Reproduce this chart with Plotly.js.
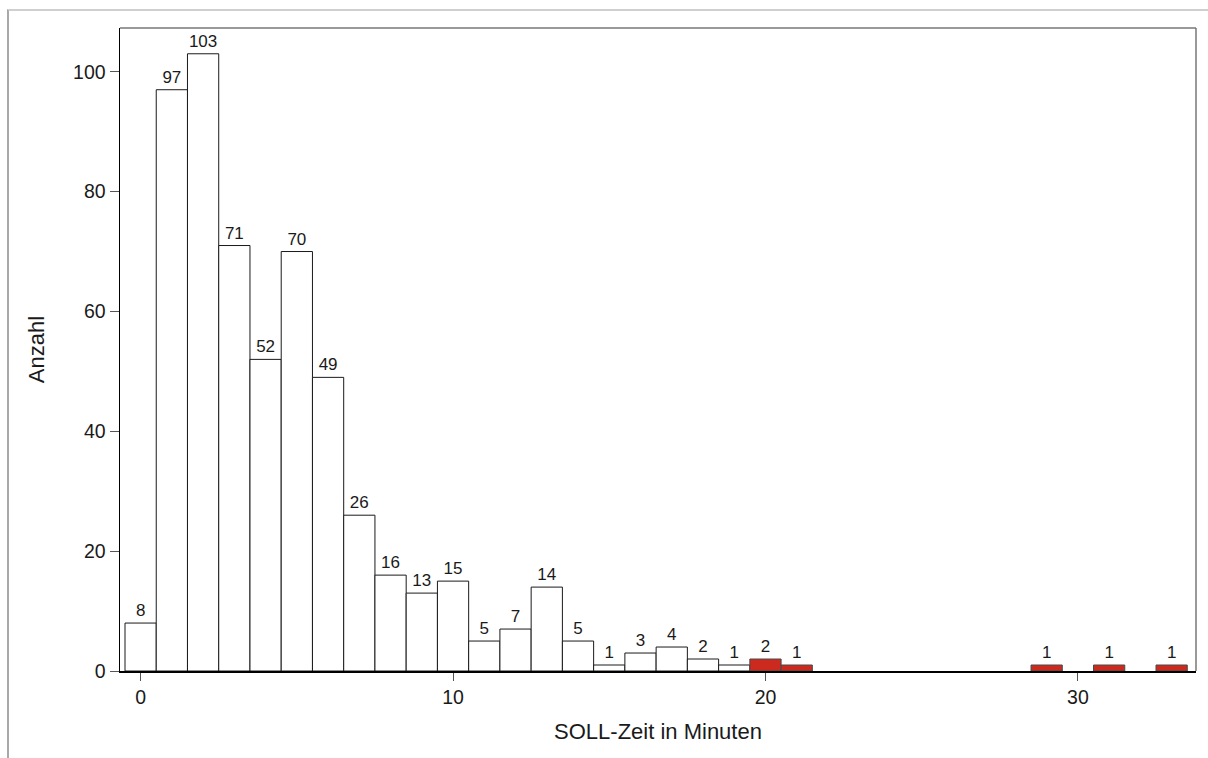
<!DOCTYPE html>
<html>
<head>
<meta charset="utf-8">
<script src="https://cdn.plot.ly/plotly-3.0.1.min.js"></script>
<style>
html,body{margin:0;padding:0;background:#fff;}
#chart{width:1208px;height:758px;}
#frame{position:absolute;left:7px;top:9px;width:1400px;height:900px;border-top:2px solid #cfcfcf;border-left:2px solid #a8a8a8;pointer-events:none;}
</style>
</head>
<body>
<div id="chart"></div>
<div id="frame"></div>
<script>
// Data
const minutes = [0,1,2,3,4,5,6,7,8,9,10,11,12,13,14,15,16,17,18,19,20,21,29,31,33];
const counts  = [8,97,103,71,52,70,49,26,16,13,15,5,7,14,5,1,3,4,2,1,2,1,1,1,1];
const highlighted = [0,0,0,0,0,0,0,0,0,0,0,0,0,0,0,0,0,0,0,0,1,1,1,1,1];
const xTicks = [0,10,20,30];
const yTicks = [0,20,40,60,80,100];
const xTitle = "SOLL-Zeit in Minuten";
const yTitle = "Anzahl";

const FONT = "Liberation Sans, Arial, sans-serif";

function subset(flag){
  const x=[], y=[];
  minutes.forEach((m,i)=>{ if(highlighted[i]===flag){ x.push(m); y.push(counts[i]); } });
  return {x,y};
}
const normal = subset(0), red = subset(1);

const traces = [
  {type:'bar', x:normal.x, y:normal.y, width:1,
   marker:{color:'#ffffff', line:{color:'#1a1a1a', width:1}},
   text:normal.y.map(String), textposition:'outside', cliponaxis:false,
   textfont:{family:FONT, size:17, color:'#1a1a1a'}, hoverinfo:'x+y'},
  {type:'bar', x:red.x, y:red.y, width:1,
   marker:{color:'#cc2a1e', line:{color:'#4a4a4a', width:1}},
   text:red.y.map(String), textposition:'outside', cliponaxis:false,
   textfont:{family:FONT, size:17, color:'#1a1a1a'}, hoverinfo:'x+y'}
];

const layout = {
  width:1208, height:758,
  margin:{l:120, r:12, t:28, b:87},
  paper_bgcolor:'#ffffff', plot_bgcolor:'#ffffff',
  showlegend:false, barmode:'overlay',
  font:{family:FONT, size:19, color:'#1a1a1a'},
  xaxis:{range:[-0.66,33.78], tickvals:xTicks, ticktext:xTicks.map(String),
    ticks:'outside', ticklen:8, tickwidth:1, tickcolor:'#555',
    showgrid:false, zeroline:false, showline:true, linecolor:'#000', linewidth:2,
    tickfont:{family:FONT, size:19.5, color:'#1a1a1a'},
    title:{text:xTitle, font:{family:FONT, size:22, color:'#1a1a1a'}, standoff:16}},
  yaxis:{range:[0,107.3], tickvals:yTicks, ticktext:yTicks.map(String),
    ticks:'outside', ticklen:9, tickwidth:1, tickcolor:'#555',
    showgrid:false, zeroline:false, showline:true, linecolor:'#000', linewidth:1.5,
    tickfont:{family:FONT, size:19.5, color:'#1a1a1a'},
    title:{text:yTitle, font:{family:FONT, size:22, color:'#1a1a1a'}, standoff:22}},
  shapes:[
    {type:'line', xref:'paper', yref:'paper', x0:0, x1:1, y0:1, y1:1, line:{color:'#777', width:1.5}},
    {type:'line', xref:'paper', yref:'paper', x0:1, x1:1, y0:0, y1:1, line:{color:'#777', width:1.5}}
  ]
};

Plotly.newPlot('chart', traces, layout, {displayModeBar:false, staticPlot:true});
</script>
</body>
</html>
